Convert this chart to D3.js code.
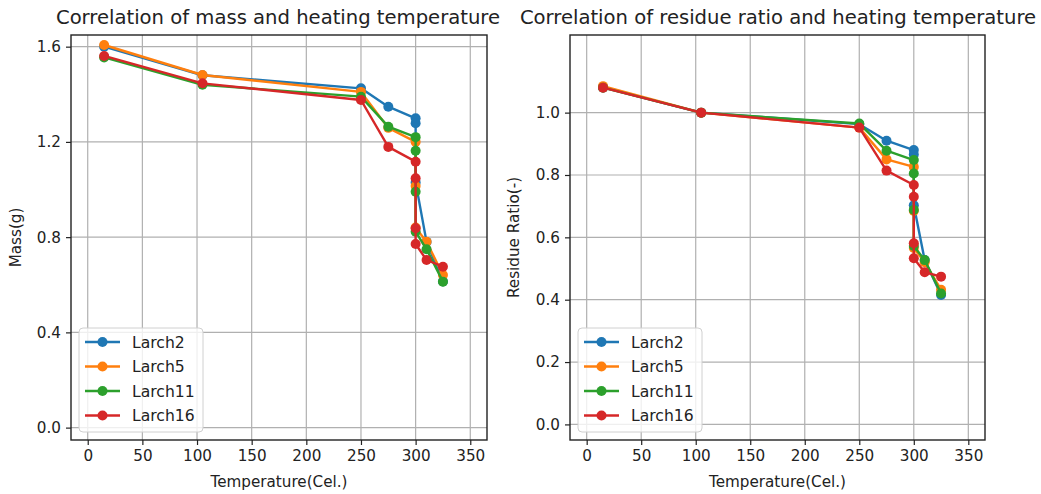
<!DOCTYPE html>
<html>
<head>
<meta charset="utf-8">
<script src="https://cdn.jsdelivr.net/npm/d3@7"></script>
<style>
  html, body { margin: 0; padding: 0; background: #fff; }
  svg { display: block; font-family: "DejaVu Sans", sans-serif; }
</style>
</head>
<body>
<svg id="fig" width="1041" height="494"></svg>
<script>
// Heating experiment: sample mass and residue ratio vs. temperature
const seriesNames = ["Larch2", "Larch5", "Larch11", "Larch16"];
const seriesColors = ["#1f77b4", "#ff7f0e", "#2ca02c", "#d62728"];

const tempLarch2  = [15, 105, 250, 275, 300, 300, 300, 310, 325];
const tempLarch5  = [15, 105, 250, 275, 300, 300, 300, 310, 325];
const tempLarch11 = [15, 105, 250, 275, 300, 300, 300, 300, 310, 325];
const tempLarch16 = [15, 105, 250, 275, 300, 300, 300, 300, 310, 325];

const massLarch2  = [1.600, 1.480, 1.425, 1.348, 1.299, 1.278, 1.030, 0.780, 0.614];
const massLarch5  = [1.607, 1.481, 1.410, 1.259, 1.200, 1.015, 0.840, 0.781, 0.641];
const massLarch11 = [1.555, 1.440, 1.390, 1.264, 1.220, 1.163, 0.991, 0.823, 0.749, 0.613];
const massLarch16 = [1.561, 1.446, 1.376, 1.179, 1.117, 1.047, 0.837, 0.771, 0.704, 0.676];

const ratioLarch2  = [1.081, 1.000, 0.963, 0.910, 0.880, 0.866, 0.703, 0.527, 0.415];
const ratioLarch5  = [1.085, 1.000, 0.952, 0.850, 0.826, 0.685, 0.566, 0.520, 0.432];
const ratioLarch11 = [1.080, 1.000, 0.965, 0.878, 0.848, 0.805, 0.688, 0.572, 0.527, 0.420];
const ratioLarch16 = [1.080, 1.000, 0.952, 0.814, 0.768, 0.730, 0.581, 0.533, 0.488, 0.474];

const xTicks = [0, 50, 100, 150, 200, 250, 300, 350];
const massTicks = [0.0, 0.4, 0.8, 1.2, 1.6];
const ratioTicks = [0.0, 0.2, 0.4, 0.6, 0.8, 1.0];

const temps = [tempLarch2, tempLarch5, tempLarch11, tempLarch16];
const massSeries = [massLarch2, massLarch5, massLarch11, massLarch16].map((v, i) =>
  ({ name: seriesNames[i], color: seriesColors[i], points: v.map((y, j) => [temps[i][j], y]) }));
const ratioSeries = [ratioLarch2, ratioLarch5, ratioLarch11, ratioLarch16].map((v, i) =>
  ({ name: seriesNames[i], color: seriesColors[i], points: v.map((y, j) => [temps[i][j], y]) }));

const svg = d3.select("#fig");

function drawPanel(opt) {
  const { left, right, top, bottom } = opt.box;
  const x = d3.scaleLinear().domain([-15.3, 365.3]).range([left, right]);
  const y = d3.scaleLinear().domain(opt.yDomain).range([bottom, top]);
  const g = svg.append("g");

  // grid
  g.append("g").selectAll("line").data(xTicks).join("line")
    .attr("x1", d => x(d)).attr("x2", d => x(d))
    .attr("y1", top).attr("y2", bottom)
    .attr("stroke", "#b0b0b0").attr("stroke-width", 1.2);
  g.append("g").selectAll("line").data(opt.yTicks).join("line")
    .attr("x1", left).attr("x2", right)
    .attr("y1", d => y(d)).attr("y2", d => y(d))
    .attr("stroke", "#b0b0b0").attr("stroke-width", 1.2);

  // series
  const line = d3.line().x(d => x(d[0])).y(d => y(d[1]));
  opt.series.forEach(s => {
    g.append("path").datum(s.points)
      .attr("d", line).attr("fill", "none")
      .attr("stroke", s.color).attr("stroke-width", 2.4)
      .attr("stroke-linejoin", "round");
    g.append("g").selectAll("circle").data(s.points).join("circle")
      .attr("cx", d => x(d[0])).attr("cy", d => y(d[1])).attr("r", 5)
      .attr("fill", s.color);
  });

  // axes
  const xAxis = d3.axisBottom(x).tickValues(xTicks).tickFormat(d3.format("d"))
    .tickSize(5).tickPadding(5);
  const yAxis = d3.axisLeft(y).tickValues(opt.yTicks).tickFormat(d3.format(".1f"))
    .tickSize(5).tickPadding(5);
  const gx = g.append("g").attr("transform", `translate(0,${bottom})`).call(xAxis);
  const gy = g.append("g").attr("transform", `translate(${left},0)`).call(yAxis);
  [gx, gy].forEach(a => {
    a.select(".domain").remove();
    a.selectAll("text").attr("font-size", 15.2).attr("fill", "#222")
      .attr("font-family", "DejaVu Sans, sans-serif");
    a.selectAll("line").attr("stroke", "#222").attr("stroke-width", 1.2);
  });

  // frame
  g.append("rect").attr("x", left).attr("y", top)
    .attr("width", right - left).attr("height", bottom - top)
    .attr("fill", "none").attr("stroke", "#222").attr("stroke-width", 1.4);

  // titles and labels
  g.append("text").attr("x", opt.titleX).attr("y", 24)
    .attr("text-anchor", "middle").attr("font-size", 19.6).attr("fill", "#222")
    .text(opt.title);
  g.append("text").attr("x", (left + right) / 2).attr("y", 487)
    .attr("text-anchor", "middle").attr("font-size", 15.2).attr("fill", "#222")
    .text("Temperature(Cel.)");
  g.append("text")
    .attr("transform", `translate(${opt.yLabelX},${(top + bottom) / 2}) rotate(-90)`)
    .attr("text-anchor", "middle").attr("font-size", 15.2).attr("fill", "#222")
    .text(opt.yLabel);

  // legend
  const lg = g.append("g").attr("transform", `translate(${left + 8},${328})`);
  lg.append("rect").attr("width", 124).attr("height", 104).attr("rx", 4)
    .attr("fill", "#fff").attr("fill-opacity", 0.8)
    .attr("stroke", "#d0d0d0").attr("stroke-width", 1);
  opt.series.forEach((s, i) => {
    const cy = 14 + i * 24.5;
    lg.append("line").attr("x1", 6).attr("x2", 41).attr("y1", cy).attr("y2", cy)
      .attr("stroke", s.color).attr("stroke-width", 2.4);
    lg.append("circle").attr("cx", 23.5).attr("cy", cy).attr("r", 5).attr("fill", s.color);
    lg.append("text").attr("x", 53).attr("y", cy + 5.5)
      .attr("font-size", 15.6).attr("fill", "#222").text(s.name);
  });
}

drawPanel({
  box: { left: 71, right: 487, top: 35, bottom: 440 },
  yDomain: [-0.052, 1.649],
  yTicks: massTicks,
  series: massSeries,
  title: "Correlation of mass and heating temperature",
  titleX: 278,
  yLabel: "Mass(g)",
  yLabelX: 21
});

drawPanel({
  box: { left: 570, right: 985, top: 35, bottom: 440 },
  yDomain: [-0.050, 1.249],
  yTicks: ratioTicks,
  series: ratioSeries,
  title: "Correlation of residue ratio and heating temperature",
  titleX: 778,
  yLabel: "Residue Ratio(-)",
  yLabelX: 519
});
</script>
</body>
</html>
